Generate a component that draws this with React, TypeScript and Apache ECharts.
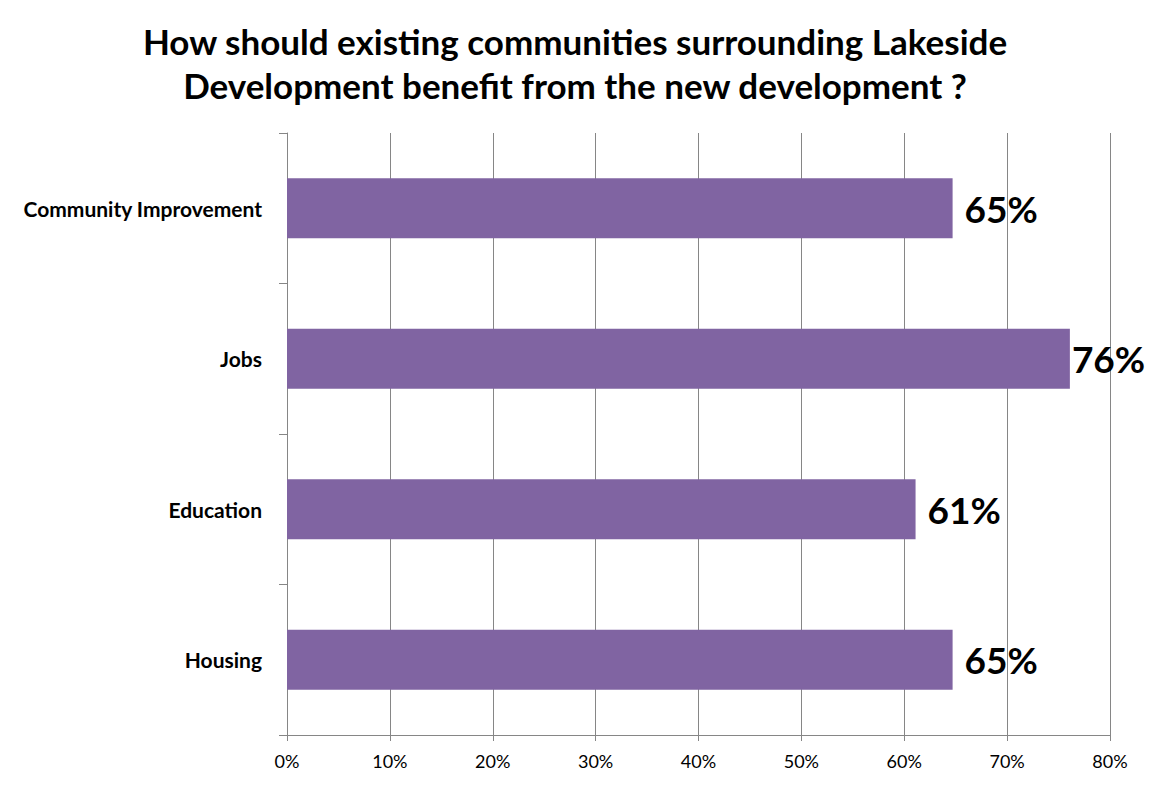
import React, { useEffect, useRef } from "react";
import * as echarts from "echarts";

const categories = ["Housing", "Education", "Jobs", "Community Improvement"];
const values = [0.647, 0.611, 0.761, 0.647];
const labelGaps = [12, 12, 2, 12];
const xTicks = [0, 0.1, 0.2, 0.3, 0.4, 0.5, 0.6, 0.7, 0.8];

const FONT = "Lato, 'Open Sans', sans-serif";

export default function App() {
  const ref = useRef<HTMLDivElement>(null);
  useEffect(() => {
    if (!ref.current) return;
    const chart = echarts.init(ref.current, undefined, { renderer: "svg" });
    chart.setOption({
      animation: false,
      backgroundColor: "#ffffff",
      title: {
        text: "How should existing communities surrounding Lakeside\nDevelopment benefit from the new development ?",
        left: "center",
        top: 14,
        textStyle: {
          fontFamily: FONT,
          fontSize: 35,
          fontWeight: "bold",
          color: "#000000",
          lineHeight: 44,
        },
      },
      grid: { left: 287, right: 40, top: 133, bottom: 52, containLabel: false },
      xAxis: {
        type: "value",
        min: xTicks[0],
        max: xTicks[xTicks.length - 1],
        interval: 0.1,
        axisLine: { show: true, lineStyle: { color: "#868686", width: 1 } },
        axisTick: { show: true, length: 6, lineStyle: { color: "#868686" } },
        splitLine: { show: true, lineStyle: { color: "#868686", width: 1 } },
        axisLabel: {
          fontFamily: FONT,
          fontSize: 18,
          color: "#000000",
          margin: 17,
          formatter: (v: number) => Math.round(v * 100) + "%",
        },
      },
      yAxis: {
        type: "category",
        data: categories,
        axisLine: { show: true, lineStyle: { color: "#868686", width: 1 } },
        axisTick: { show: true, length: 8, lineStyle: { color: "#868686" } },
        axisLabel: {
          fontFamily: FONT,
          fontSize: 21,
          fontWeight: "bold",
          color: "#000000",
          margin: 25,
        },
      },
      series: [
        {
          type: "bar",
          data: values.map((v, i) => ({
            value: v,
            label: { distance: labelGaps[i] },
          })),
          barWidth: 60,
          itemStyle: { color: "#8064A2" },
          label: {
            show: true,
            position: "right",
            fontFamily: FONT,
            fontSize: 37,
            fontWeight: "bold",
            color: "#000000",
            formatter: (p: any) => Math.round(p.value * 100) + "%",
          },
        },
      ],
    });
    return () => chart.dispose();
  }, []);
  return (
    <div
      ref={ref}
      style={{ position: "fixed", left: 0, top: 0, width: 1150, height: 787 }}
    />
  );
}
